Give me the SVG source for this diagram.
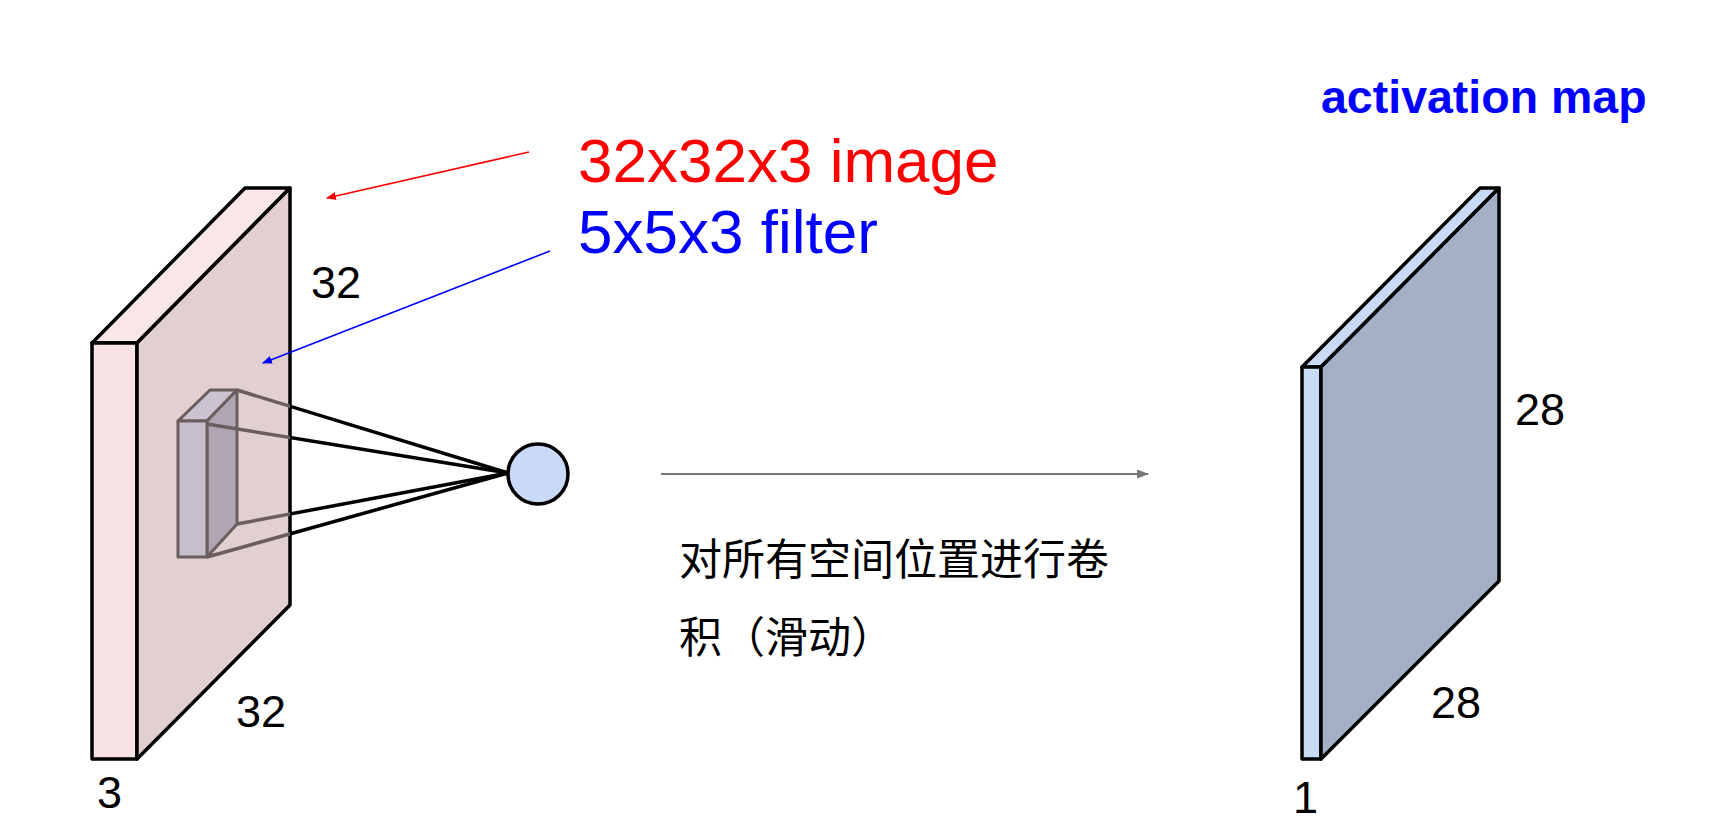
<svg xmlns="http://www.w3.org/2000/svg" width="1709" height="840" viewBox="0 0 1709 840">
<defs>
<style>
.lbl{font-family:"Liberation Sans",Arial,sans-serif;font-size:45px;fill:#000}
.blk{stroke:#000;stroke-width:3.5;stroke-linejoin:round}
.flt{stroke:#6b5e5e;stroke-width:3;stroke-linejoin:round}
.cn{stroke:#000;stroke-width:3.5;fill:none}
.cg{stroke:#6b5e5e;stroke-width:3.5;fill:none}
</style>
<marker id="ar" markerWidth="10" markerHeight="8" refX="9" refY="4" orient="auto" markerUnits="userSpaceOnUse"><path d="M0,0 L10,4 L0,8 z" fill="#ff0000"/></marker>
<marker id="ab" markerWidth="10" markerHeight="8" refX="9" refY="4" orient="auto" markerUnits="userSpaceOnUse"><path d="M0,0 L10,4 L0,8 z" fill="#0000ff"/></marker>
<marker id="ag" markerWidth="12" markerHeight="9" refX="11" refY="4.5" orient="auto" markerUnits="userSpaceOnUse"><path d="M0,0 L12,4.5 L0,9 z" fill="#777"/></marker>
<clipPath id="inFace"><polygon points="137,343 290,188 290,605 137,759"/></clipPath>
<clipPath id="outFace"><rect x="290" y="0" width="400" height="840"/></clipPath>
</defs>
<rect width="1709" height="840" fill="#fff"/>

<g id="input-volume">
<polygon class="blk" fill="#f9e6e6" points="92,343 245,188 290,188 137,343"/>
<polygon class="blk" fill="#f7e3e3" points="92,343 137,343 137,759 92,759"/>
<polygon class="blk" fill="#e2cfcf" points="137,343 290,188 290,605 137,759"/>
<text class="lbl" x="311" y="298">32</text>
<text class="lbl" x="236" y="727">32</text>
<text class="lbl" x="97" y="808">3</text>
</g>

<g id="filter">
<polygon class="flt" fill="#ccc3d1" points="178,421 210,390 237,390 207,421"/>
<polygon class="flt" fill="#afa6b2" points="207,421 237,390 237,524 207,557"/>
<polygon class="flt" fill="#c8bfcd" points="178,421 207,421 207,557 178,557"/>
</g>

<g id="connectors">
<g clip-path="url(#inFace)">
<line class="cg" x1="237" y1="390" x2="508" y2="473"/>
<line class="cg" x1="207" y1="424" x2="508" y2="473"/>
<line class="cg" x1="237" y1="524" x2="508" y2="473"/>
<line class="cg" x1="207" y1="557" x2="508" y2="473"/>
</g>
<g clip-path="url(#outFace)">
<line class="cn" x1="237" y1="390" x2="508" y2="473"/>
<line class="cn" x1="207" y1="424" x2="508" y2="473"/>
<line class="cn" x1="237" y1="524" x2="508" y2="473"/>
<line class="cn" x1="207" y1="557" x2="508" y2="473"/>
</g>
<line x1="529" y1="152" x2="327" y2="198" stroke="#ff0000" stroke-width="1.6" marker-end="url(#ar)"/>
<line x1="550" y1="251" x2="263" y2="363" stroke="#0000ff" stroke-width="1.6" marker-end="url(#ab)"/>
<line x1="661" y1="474" x2="1148" y2="474" stroke="#777" stroke-width="1.8" marker-end="url(#ag)"/>
</g>

<g id="neuron">
<circle cx="538" cy="474" r="30" fill="#c9daf8" stroke="#000" stroke-width="3.5"/>
</g>

<g id="captions">
<text x="578" y="182" font-family="Liberation Sans, Arial, sans-serif" font-size="62" fill="#ff0000">32x32x3 image</text>
<text x="578" y="253" font-family="Liberation Sans, Arial, sans-serif" font-size="62" fill="#0000ff">5x5x3 filter</text>
<text font-family="Noto Sans CJK SC, sans-serif" font-size="43" fill="#000"><tspan x="679" y="575">对所有空间位置进行卷</tspan><tspan x="679" y="653">积（滑动）</tspan></text>
</g>

<g id="activation-map">
<polygon class="blk" fill="#c9daf5" points="1302,367 1480,188 1499,188 1321,367"/>
<polygon class="blk" fill="#c9daf5" points="1302,367 1321,367 1321,759 1302,759"/>
<polygon class="blk" fill="#a3b0c6" points="1321,367 1499,188 1499,581 1321,759"/>
<text x="1321" y="113" font-family="Liberation Sans, Arial, sans-serif" font-weight="bold" font-size="46.5" fill="#0000ff">activation map</text>
<text class="lbl" x="1515" y="425">28</text>
<text class="lbl" x="1431" y="718">28</text>
<text class="lbl" x="1293" y="813">1</text>
</g>
</svg>
